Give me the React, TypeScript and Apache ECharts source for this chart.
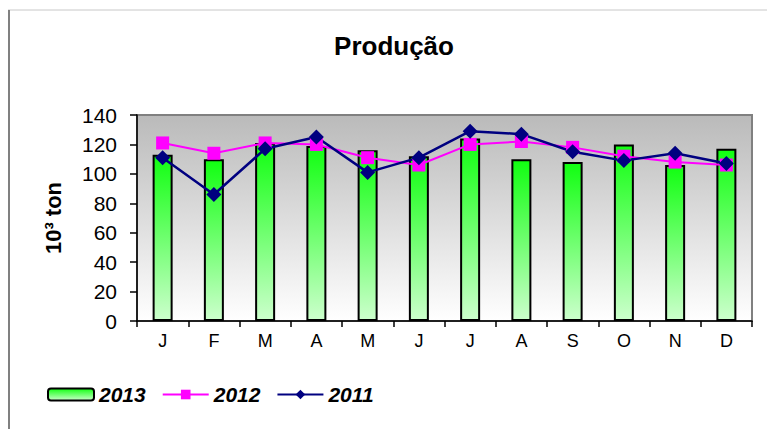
import React, { useEffect, useRef } from "react";
import * as echarts from "echarts";

const months = ["J", "F", "M", "A", "M", "J", "J", "A", "S", "O", "N", "D"];
const s2013 = [113, 110, 121, 119, 116, 112, 124, 110, 108, 120, 106, 117];
const s2012 = [121, 114, 121, 120, 111, 106, 120, 122, 118, 112, 108, 106];
const s2011 = [111, 86, 117, 125, 101, 111, 129, 127, 115, 109, 114, 107];

export default function App() {
  const ref = useRef<HTMLDivElement>(null);
  useEffect(() => {
    if (!ref.current) return;
    const chart = echarts.init(ref.current, null, { renderer: "svg" });
    chart.setOption({
      animation: false,
      backgroundColor: "#ffffff",
      title: {
        text: "Produção",
        left: 394,
        top: 33,
        padding: 0,
        textAlign: "center",
        textStyle: {
          fontFamily: "Liberation Sans",
          fontSize: 26,
          fontWeight: "bold",
          color: "#000",
        },
      },
      legend: {
        left: 47,
        top: 384,
        padding: 0,
        itemWidth: 46,
        itemHeight: 12,
        itemGap: 16,
        data: ["2013", "2012", "2011"],
        textStyle: {
          fontFamily: "Liberation Sans",
          fontSize: 21,
          fontWeight: "bold",
          fontStyle: "italic",
          color: "#000",
        },
      },
      grid: {
        left: 137,
        right: 15,
        top: 115,
        bottom: 108,
        show: true,
        backgroundColor: new echarts.graphic.LinearGradient(0, 0, 0, 1, [
          { offset: 0, color: "#bababa" },
          { offset: 1, color: "#ffffff" },
        ]),
        borderColor: "#808080",
        borderWidth: 2,
      },
      xAxis: {
        type: "category",
        data: months,
        axisLine: { lineStyle: { color: "#000", width: 1.5 } },
        axisTick: { show: true, length: 6, lineStyle: { color: "#000", width: 1.5 } },
        axisLabel: {
          fontFamily: "Liberation Sans",
          fontSize: 18,
          color: "#000",
          margin: 11,
        },
      },
      yAxis: {
        type: "value",
        min: 0,
        max: 140,
        interval: 20,
        name: "10³ ton",
        nameLocation: "middle",
        nameGap: 73,
        nameTextStyle: {
          fontFamily: "Liberation Sans",
          fontSize: 22,
          fontWeight: "bold",
          color: "#000",
        },
        splitLine: { show: false },
        axisLine: { show: true, lineStyle: { color: "#000", width: 1.5 } },
        axisTick: { show: true, length: 7, lineStyle: { color: "#000", width: 1.5 } },
        axisLabel: {
          fontFamily: "Liberation Sans",
          fontSize: 21,
          color: "#000",
          margin: 20,
        },
      },
      graphic: [
        { type: "line", shape: { x1: 8, y1: 10, x2: 767, y2: 10 }, style: { stroke: "#c8c8c8", lineWidth: 1 } },
        { type: "line", shape: { x1: 9, y1: 10, x2: 9, y2: 429 }, style: { stroke: "#808080", lineWidth: 2 } },
      ],
      series: [
        {
          name: "2013",
          type: "bar",
          data: s2013,
          barWidth: 20,
          itemStyle: {
            color: new echarts.graphic.LinearGradient(0, 0, 0, 1, [
              { offset: 0, color: "#11ff11" },
              { offset: 1, color: "#ccffcc" },
            ]),
            borderColor: "#000",
            borderWidth: 2,
          },
        },
        {
          name: "2012",
          type: "line",
          data: s2012,
          symbol: "rect",
          symbolSize: 13,
          lineStyle: { color: "#ff00ff", width: 2 },
          itemStyle: { color: "#ff00ff" },
        },
        {
          name: "2011",
          type: "line",
          data: s2011,
          symbol: "diamond",
          symbolSize: 15,
          lineStyle: { color: "#000080", width: 2.5 },
          itemStyle: { color: "#000080" },
        },
      ],
    });
    return () => chart.dispose();
  }, []);
  return (
    <div
      ref={ref}
      style={{ position: "fixed", left: 0, top: 0, width: 767, height: 429 }}
    />
  );
}
